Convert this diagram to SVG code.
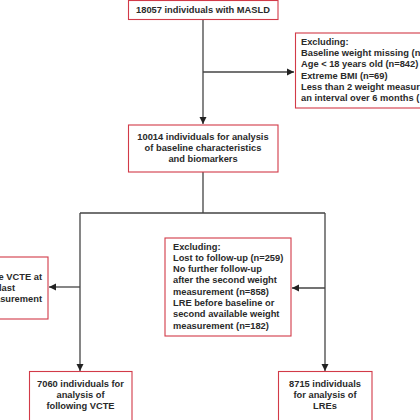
<svg xmlns="http://www.w3.org/2000/svg" width="420" height="420" viewBox="0 0 420 420">
<style>
.box{fill:#fff;stroke:#d23a48;stroke-width:1.1}
.t{font-family:"Liberation Sans",Arial,sans-serif;font-weight:bold;font-size:9.3px;fill:#2a2a2a}
.c{text-anchor:middle}
.e{text-anchor:end}
.ln{fill:none;stroke:#444;stroke-width:1.3}
</style>
<defs>
<marker id="ah" markerUnits="userSpaceOnUse" markerWidth="8" markerHeight="8" refX="7" refY="4" orient="auto">
<path d="M0,0.5 L7,4 L0,7.5 Z" fill="#222"/>
</marker>
</defs>
<rect width="420" height="420" fill="#fff"/>
<g id="connectors">
<path class="ln" d="M203,20 V124" marker-end="url(#ah)"/>
<path class="ln" d="M203,72 H294" marker-end="url(#ah)"/>
<path class="ln" d="M203,172 V213 M80,213 H325"/>
<path class="ln" d="M80,213 V371" marker-end="url(#ah)"/>
<path class="ln" d="M325,213 V371" marker-end="url(#ah)"/>
<path class="ln" d="M80,287 H49" marker-end="url(#ah)"/>
<path class="ln" d="M325,288 H292" marker-end="url(#ah)"/>
</g>
<g id="n-masld">
<rect class="box" x="128.5" y="0.5" width="149.5" height="19"/>
<text class="t c" x="203" y="12.6">18057 individuals with MASLD</text>
</g>
<g id="n-excl1">
<rect class="box" x="295.5" y="33" width="130" height="75"/>
<text class="t" x="301" y="45.2">Excluding:</text>
<text class="t" x="301" y="56.3">Baseline weight missing (n</text>
<text class="t" x="301" y="67.4">Age &lt; 18 years old (n=842)</text>
<text class="t" x="301" y="78.5">Extreme BMI (n=69)</text>
<text class="t" x="301" y="89.6">Less than 2 weight measur</text>
<text class="t" x="301" y="100.7">an interval over 6 months (</text>
</g>
<g id="n-baseline">
<rect class="box" x="128.5" y="125" width="149.5" height="47"/>
<text class="t c" x="203" y="140.4">10014 individuals for analysis</text>
<text class="t c" x="203" y="151.4">of baseline characteristics</text>
<text class="t c" x="203" y="162.4">and biomarkers</text>
</g>
<g id="n-excl-vcte">
<rect class="box" x="-5" y="257" width="53" height="62"/>
<text class="t e" x="42" y="280.2">e VCTE at</text>
<text class="t e" x="15" y="291.2">last</text>
<text class="t e" x="42" y="302.4">asurement</text>
</g>
<g id="n-excl2">
<rect class="box" x="165" y="238" width="126" height="98"/>
<text class="t" x="173" y="249.5">Excluding:</text>
<text class="t" x="173" y="260.8">Lost to follow-up (n=259)</text>
<text class="t" x="173" y="272.1">No further follow-up</text>
<text class="t" x="173" y="283.4">after the second weight</text>
<text class="t" x="173" y="294.7">measurement (n=858)</text>
<text class="t" x="173" y="306">LRE before baseline or</text>
<text class="t" x="173" y="317.3">second available weight</text>
<text class="t" x="173" y="328.6">measurement (n=182)</text>
</g>
<g id="n-vcte">
<rect class="box" x="29.5" y="371.5" width="102.5" height="55"/>
<text class="t c" x="80.5" y="386.7">7060 individuals for</text>
<text class="t c" x="80.5" y="397.7">analysis of</text>
<text class="t c" x="80.5" y="408.5">following VCTE</text>
</g>
<g id="n-lre">
<rect class="box" x="278.5" y="371.5" width="93.5" height="55"/>
<text class="t c" x="325" y="386.7">8715 individuals</text>
<text class="t c" x="325" y="397.7">for analysis of</text>
<text class="t c" x="325" y="408.5">LREs</text>
</g>
</svg>
